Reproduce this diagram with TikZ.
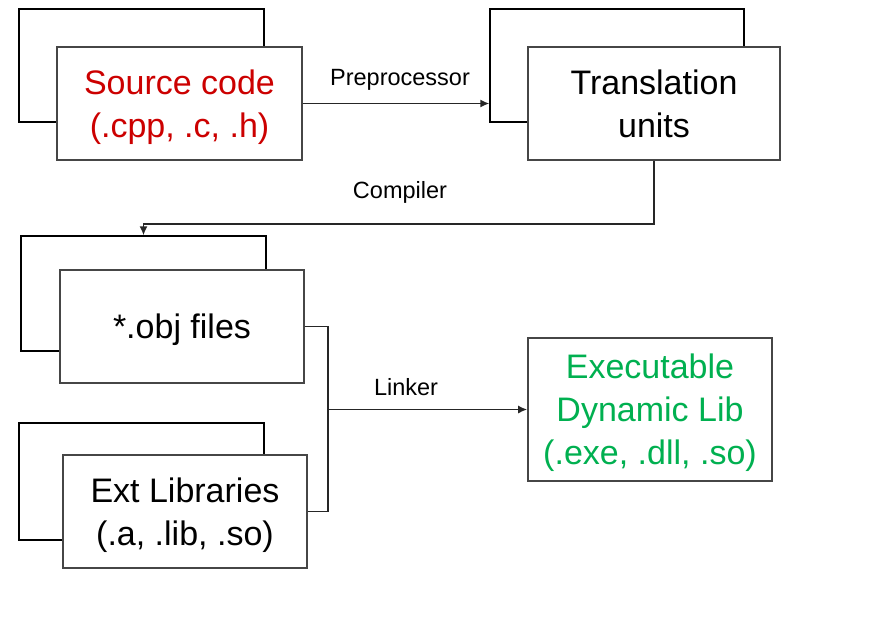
\documentclass[tikz,border=0pt]{standalone}
\usepackage{fontspec}
\setmainfont{Liberation Sans}
\usetikzlibrary{arrows.meta}
\usepackage{xcolor}
\definecolor{mred}{RGB}{204,0,0}
\definecolor{mgreen}{RGB}{0,176,80}
\definecolor{mgray}{RGB}{70,70,70}

\begin{document}
\begin{tikzpicture}[x=1pt, y=-1pt,
  every node/.append style={inner sep=0pt, align=center},
  backbox/.style={draw=black, line width=1.4pt, minimum width=245pt, minimum height=113pt},
  frontbox/.style={draw=mgray, line width=1.6pt, fill=white, minimum width=245pt, minimum height=113pt,
    font=\fontsize{34}{43}\selectfont, text depth=-2pt},
  steplabel/.style={font=\fontsize{23.5}{28}\selectfont},
  arr/.style={draw=black!85, line width=1.5pt, -{Latex[length=9pt,width=8pt]}},
  link/.style={draw=black!85, line width=1.5pt}]
  \useasboundingbox (0,0) rectangle (881,633);
  % stacked boxes
  \node [backbox] (src back) at (141.5,65.5) {};
  \node [frontbox, text=mred] (src) at (179.5,103.5) {Source code\\(.cpp, .c, .h)};
  \node [backbox, minimum width=254pt] (tu back) at (617,65.5) {};
  \node [frontbox, minimum width=252pt] (tu) at (654,103.5) {Translation\\units};
  \node [backbox, minimum height=115pt] (obj back) at (143.5,293.5) {};
  \node [frontbox, minimum width=244pt] (obj) at (182,326.5) {*.obj files};
  \node [backbox, minimum height=117pt] (ext back) at (141.5,481.5) {};
  \node [frontbox, minimum width=244pt] (ext) at (185,511.5) {Ext Libraries\\(.a, .lib, .so)};
  \node [frontbox, text=mgreen, minimum width=244pt, minimum height=143pt] (exe) at (650,409.5)
    {Executable\\Dynamic Lib\\(.exe, .dll, .so)};
  % steps
  \draw [arr] (src.east) -- (tu back.west |- src.east);
  \node [steplabel] (pre) at (400,80) {Preprocessor};
  \draw [arr] (tu.south) -- ++(0,63) -| (obj back.north);
  \node [steplabel] (comp) at (400,192) {Compiler};
  \draw [link] (obj.east) -- ++(23,0) coordinate (lk) |- (ext.east);
  \draw [arr] (lk |- exe.west) -- (exe.west);
  \node [steplabel] (lnk) at (406,387) {Linker};
\end{tikzpicture}
\end{document}
